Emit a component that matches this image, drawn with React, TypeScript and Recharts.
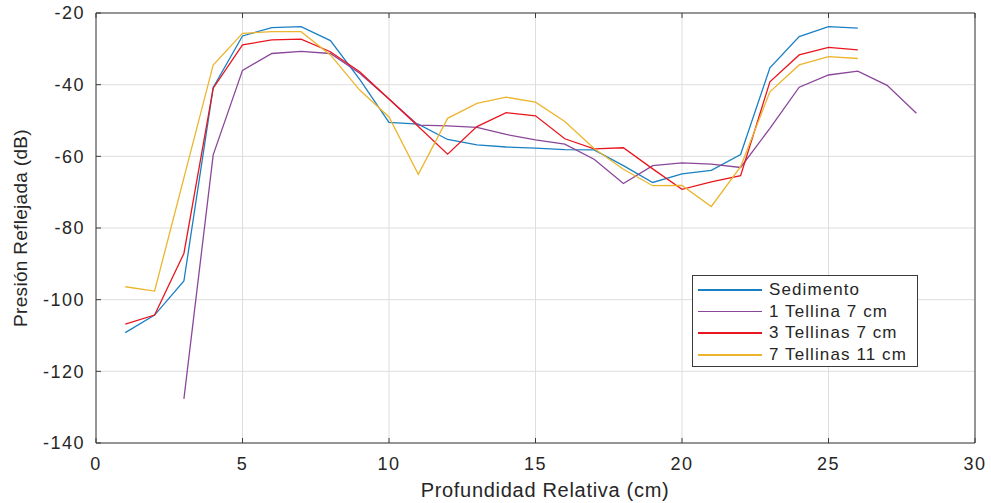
import { LineChart, Line, XAxis, YAxis, CartesianGrid, Legend, Label } from "recharts";

const profundidad = [1, 2, 3, 4, 5, 6, 7, 8, 9, 10, 11, 12, 13, 14, 15, 16, 17, 18, 19, 20, 21, 22, 23, 24, 25, 26, 27, 28];

const sedimento = [-109.2, -104.3, -94.8, -40.8, -26.4, -24.1, -23.8, -27.7, -38.5, -50.5, -51.0, -55.3, -56.8, -57.4, -57.7, -58.1, -58.2, -62.6, -67.3, -64.9, -63.9, -59.5, -35.3, -26.6, -23.8, -24.2, null, null];
const tellina1 = [null, null, -127.7, -59.6, -36.0, -31.3, -30.7, -31.3, -36.8, -44.0, -51.3, -51.5, -51.9, -53.9, -55.4, -56.6, -60.8, -67.6, -62.6, -61.8, -62.2, -63.1, -52.2, -40.7, -37.3, -36.2, -40.2, -48.0];
const tellinas3 = [-106.8, -104.3, -87.1, -41.0, -28.9, -27.5, -27.3, -30.8, -36.4, -44.0, -51.7, -59.4, -51.7, -47.8, -48.7, -55.1, -57.9, -57.6, -63.5, -69.2, -67.1, -65.4, -39.2, -31.7, -29.6, -30.3, null, null];
const tellinas7 = [-96.4, -97.6, -66.0, -34.5, -25.7, -25.2, -25.2, -31.7, -41.5, -49.0, -65.0, -49.4, -45.2, -43.5, -44.9, -50.3, -57.8, -63.6, -68.2, -68.1, -74.0, -62.9, -42.0, -34.5, -32.2, -32.7, null, null];

const seriesNames = ["Sedimento", "1 Tellina 7 cm", "3 Tellinas 7 cm", "7 Tellinas 11 cm"];

const xTicks = [0, 5, 10, 15, 20, 25, 30];
const yTicks = [-140, -120, -100, -80, -60, -40, -20];

const data = profundidad.map((x, i) => ({
  x,
  sedimento: sedimento[i],
  tellina1: tellina1[i],
  tellinas3: tellinas3[i],
  tellinas7: tellinas7[i],
}));

const font = "'Liberation Sans', Arial, Helvetica, sans-serif";
const frame = "#3c3c3c";
const tickStyle = { fontSize: 18, fill: "#262626", fontFamily: font, letterSpacing: 1.5 };

const LegendBox = ({ payload }: any) => {
  // keep the plotting order, not alphabetical
  const items = [...(payload || [])].sort((a: any, b: any) => seriesNames.indexOf(a.value) - seriesNames.indexOf(b.value));
  return (
    <div
      style={{
        boxSizing: "border-box",
        width: 226,
        height: 92,
        border: "1px solid #3a3a3a",
        background: "#fff",
        paddingTop: 3,
        fontFamily: font,
        fontSize: 17,
        letterSpacing: 1.1,
        color: "#262626",
      }}
    >
      {items.map((p: any) => (
        <div key={p.value} style={{ display: "flex", alignItems: "center", height: 21.7 }}>
          <span style={{ display: "inline-block", width: 64, height: 1.5, marginLeft: 5, background: p.color }} />
          <span style={{ marginLeft: 7, lineHeight: "21.7px" }}>{p.value}</span>
        </div>
      ))}
    </div>
  );
};

export default function App() {
  return (
    <div style={{ position: "absolute", left: 0, top: 0, background: "#fff" }}>
      <LineChart width={991} height={503} data={data} margin={{ top: 12, right: 15, bottom: 0, left: 36 }}>
        <CartesianGrid xAxisId="b" yAxisId="l" stroke="#dedede" strokeWidth={1} />
        <XAxis
          xAxisId="b"
          type="number"
          dataKey="x"
          domain={[0, 30]}
          ticks={xTicks}
          height={60}
          stroke={frame}
          tickSize={-5}
          tickMargin={19}
          tick={tickStyle}
        >
          <Label
            content={() => (
              <text x={545} y={497} textAnchor="middle" fontSize={20} fontFamily={font} letterSpacing={0.7} fill="#262626">
                Profundidad Relativa (cm)
              </text>
            )}
          />
        </XAxis>
        <XAxis
          xAxisId="t"
          orientation="top"
          type="number"
          dataKey="x"
          domain={[0, 30]}
          ticks={xTicks}
          height={1}
          stroke={frame}
          tickSize={-5}
          tickFormatter={() => ""}
        />
        <YAxis
          yAxisId="l"
          type="number"
          domain={[-140, -20]}
          ticks={yTicks}
          width={60}
          stroke={frame}
          tickSize={-5}
          tickMargin={16}
          tick={tickStyle}
        >
          <Label
            content={() => (
              <text
                x={27}
                y={228}
                transform="rotate(-90 27 228)"
                textAnchor="middle"
                fontSize={19}
                fontFamily={font}
                letterSpacing={0.3}
                fill="#262626"
              >
                Presión Reflejada (dB)
              </text>
            )}
          />
        </YAxis>
        <YAxis
          yAxisId="r"
          orientation="right"
          type="number"
          domain={[-140, -20]}
          ticks={yTicks}
          width={1}
          stroke={frame}
          tickSize={-5}
          tickFormatter={() => ""}
        />
        <Legend
          layout="vertical"
          align="center"
          verticalAlign="middle"
          content={<LegendBox />}
          wrapperStyle={{ left: 692, top: 275, width: 226, height: 92 }}
        />
        <Line xAxisId="b" yAxisId="l" type="linear" dataKey="sedimento" name={seriesNames[0]} stroke="#1a80c4" strokeWidth={1.3} dot={false} isAnimationActive={false} />
        <Line xAxisId="b" yAxisId="l" type="linear" dataKey="tellina1" name={seriesNames[1]} stroke="#8a4799" strokeWidth={1.3} dot={false} isAnimationActive={false} />
        <Line xAxisId="b" yAxisId="l" type="linear" dataKey="tellinas3" name={seriesNames[2]} stroke="#e8161e" strokeWidth={1.3} dot={false} isAnimationActive={false} />
        <Line xAxisId="b" yAxisId="l" type="linear" dataKey="tellinas7" name={seriesNames[3]} stroke="#ebb52e" strokeWidth={1.3} dot={false} isAnimationActive={false} />
      </LineChart>
    </div>
  );
}
